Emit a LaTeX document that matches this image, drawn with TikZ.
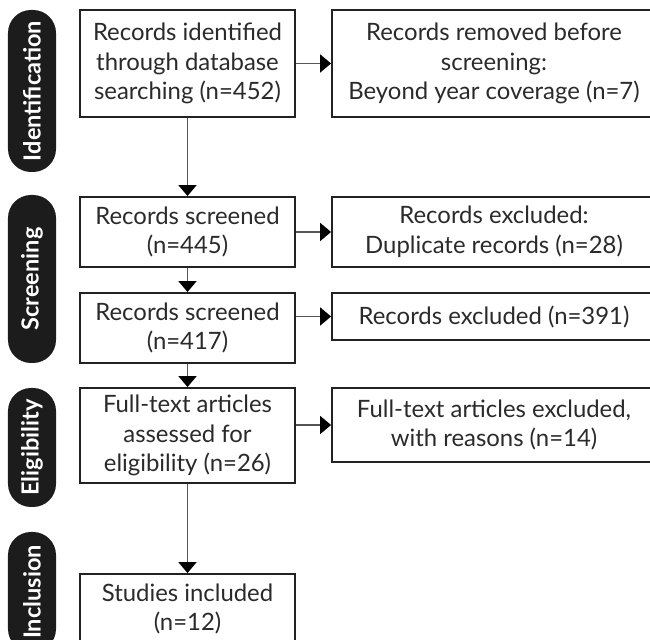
\documentclass[tikz,border=0pt]{standalone}
\usepackage{fontspec}
\setmainfont{Lato}
\usetikzlibrary{arrows.meta,positioning}
\definecolor{boxline}{HTML}{222222}
\definecolor{arrowline}{HTML}{555555}
\definecolor{pillcolor}{HTML}{1C1C1C}
\definecolor{textcolor}{HTML}{2A2A2A}

\begin{document}
\begin{tikzpicture}[
    stagebox/.style={rectangle, draw=boxline, line width=1.05pt, align=center, text=textcolor, font=\fontsize{13.6}{16.8}\selectfont, inner sep=2pt},
    leftbox/.style={stagebox, minimum width=4.3cm},
    rightbox/.style={stagebox, minimum width=6.48cm},
    phase/.style={rectangle, rounded corners=0.46cm, fill=pillcolor, text=white, rotate=90, minimum height=0.96cm, font=\fontsize{13.4}{16}\selectfont\bfseries},
    flow/.style={draw=arrowline, line width=1.05pt, -{Triangle[length=0.22cm, width=0.36cm, color=black]}}
]
\clip (0,0) rectangle (13,12.8);

% Phase labels
\node[phase, minimum width=3.24cm] (identph) at (0.64, 10.98) {Identification};
\node[phase, minimum width=3.36cm] (screenph) at (0.64, 7.22) {Screening};
\node[phase, minimum width=2.38cm] (eligph) at (0.64, 3.85) {Eligibility};
\node[phase, minimum width=2.4cm] (inclph) at (0.64, 0.96) {Inclusion};

% Main flow
\node[leftbox, minimum height=2.14cm] (identified) at (3.75, 11.53) {Records identified\\through database\\searching (n=452)};
\node[leftbox, minimum height=1.4cm] (screenedA) at (3.75, 8.16) {Records screened\\(n=445)};
\node[leftbox, minimum height=1.4cm] (screenedB) at (3.75, 6.24) {Records screened\\(n=417)};
\node[leftbox, minimum height=1.9cm] (fulltext) at (3.75, 4.09) {Full-text articles\\assessed for\\eligibility (n=26)};
\node[leftbox, minimum height=1.4cm] (included) at (3.75, 0.62) {Studies included\\(n=12)};

% Excluded records
\node[rightbox, minimum height=2.14cm] (removed) at (9.88, 11.53) {Records removed before\\screening:\\Beyond year coverage (n=7)};
\node[rightbox, minimum height=1.4cm] (duplicate) at (9.88, 8.16) {Records excluded:\\Duplicate records (n=28)};
\node[rightbox, minimum height=0.94cm] (excluded) at (9.88, 6.47) {Records excluded (n=391)};
\node[rightbox, minimum height=1.48cm] (ftexcluded) at (9.88, 4.3) {Full-text articles excluded,\\with reasons (n=14)};

% Vertical arrows
\draw[flow] (identified) -- (screenedA);
\draw[flow] (screenedA) -- (screenedB);
\draw[flow] (screenedB) -- (fulltext);
\draw[flow] (fulltext) -- (included);

% Horizontal arrows
\draw[flow] (identified.east |- removed.west) -- (removed.west);
\draw[flow] (screenedA.east |- duplicate.west) -- (duplicate.west);
\draw[flow] (screenedB.east |- excluded.west) -- (excluded.west);
\draw[flow] (fulltext.east |- ftexcluded.west) -- (ftexcluded.west);

\end{tikzpicture}
\end{document}
